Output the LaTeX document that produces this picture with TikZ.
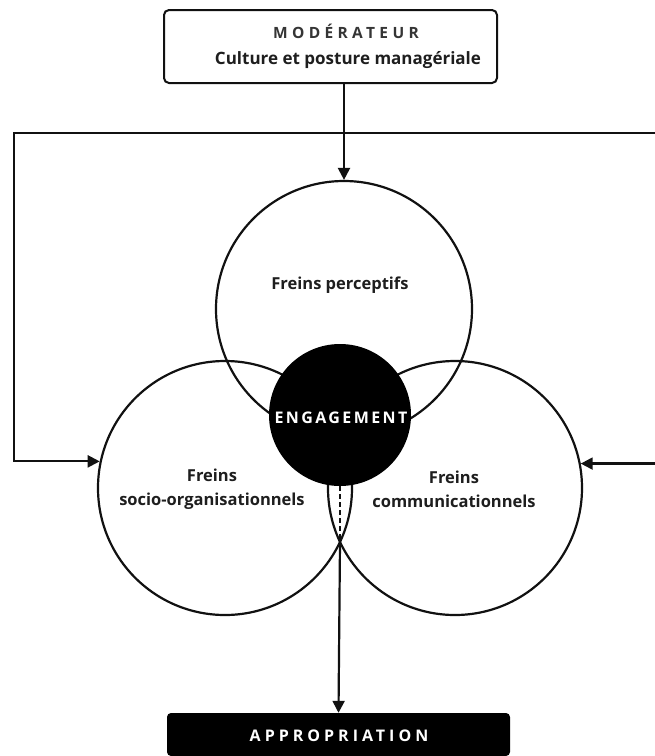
\documentclass[tikz,border=0pt]{standalone}
\usepackage{fontspec}
\setmainfont{Open Sans}
\usetikzlibrary{arrows.meta}
\definecolor{ink}{HTML}{111111}
\definecolor{txt}{HTML}{1E1E1E}
\newcommand{\spacedtxt}[2]{{\addfontfeature{LetterSpace=#1}#2}}
\begin{document}
\begin{tikzpicture}[x=1pt,y=-1pt,
  ring/.style={circle,draw=ink,line width=2.2pt,inner sep=0pt,minimum size=#1},
  lbl/.style={font=\bfseries\fontsize{16.5}{24}\selectfont,text=txt,align=center,inner sep=0pt},
  arr/.style={draw=ink,line width=2.2pt,-{Triangle[length=12pt,width=12pt]}},
  dashline/.style={draw=ink,line width=1.7pt,dash pattern=on 5pt off 3pt}]
\useasboundingbox (0,0) rectangle (655,756);
\fill[white] (0,0) rectangle (655,756);
% top box
\node[draw=ink,line width=2pt,rounded corners=5pt,minimum width=333pt,minimum height=73pt,inner sep=0pt] (M) at (330.5,46.5) {};
\node[font=\bfseries\fontsize{15.5}{18}\selectfont,text=txt!90,inner sep=0pt] (Mt) at (346,31) {\spacedtxt{28}{MODÉRATEUR}};
\node[font=\bfseries\fontsize{17}{20}\selectfont,text=txt,inner sep=0pt] (Ms) at (348,60) {Culture et posture managériale};
% circles
\node[ring=256pt] (T) at (344,309) {};
\node[ring=254pt] (L) at (225,488) {};
\node[ring=254pt] (R) at (455,488) {};
\node[circle,fill=black,inner sep=0pt,minimum size=142pt] (E) at (340,415) {};
\node[font=\bfseries\fontsize{16}{18}\selectfont,text=white,inner sep=0pt] (Et) at (341,418) {\spacedtxt{15}{ENGAGEMENT}};
% labels
\node[lbl] (Tl) at (340,285) {Freins perceptifs};
\node[lbl] (Ll) at (212,489) {Freins\\socio-organisationnels};
\node[lbl] (Rl) at (454,489) {Freins\\communicationnels};
% bottom box
\node[fill=black,rounded corners=4pt,minimum width=343pt,minimum height=43pt,inner sep=0pt] (A) at (338.5,734.5) {};
\node[font=\bfseries\fontsize{16}{18}\selectfont,text=white,inner sep=0pt] (At) at (339,736) {\spacedtxt{25}{APPROPRIATION}};
% connectors
\coordinate (fbTL) at (14,133);
\coordinate (fbTR) at (655,133);
\coordinate (fbR) at (655,463);
\coordinate (apex) at (340,542);
\draw[arr] (M.south -| T.north) -- (T.north);
\draw[arr] (fbTR) -- (fbTL) |- (L.168);
\draw[arr] (R.11 -| fbR) -- (R.11);
\draw[dashline] (E.south) -- (apex);
\draw[arr] (apex) -- (A.north);
\end{tikzpicture}
\end{document}
